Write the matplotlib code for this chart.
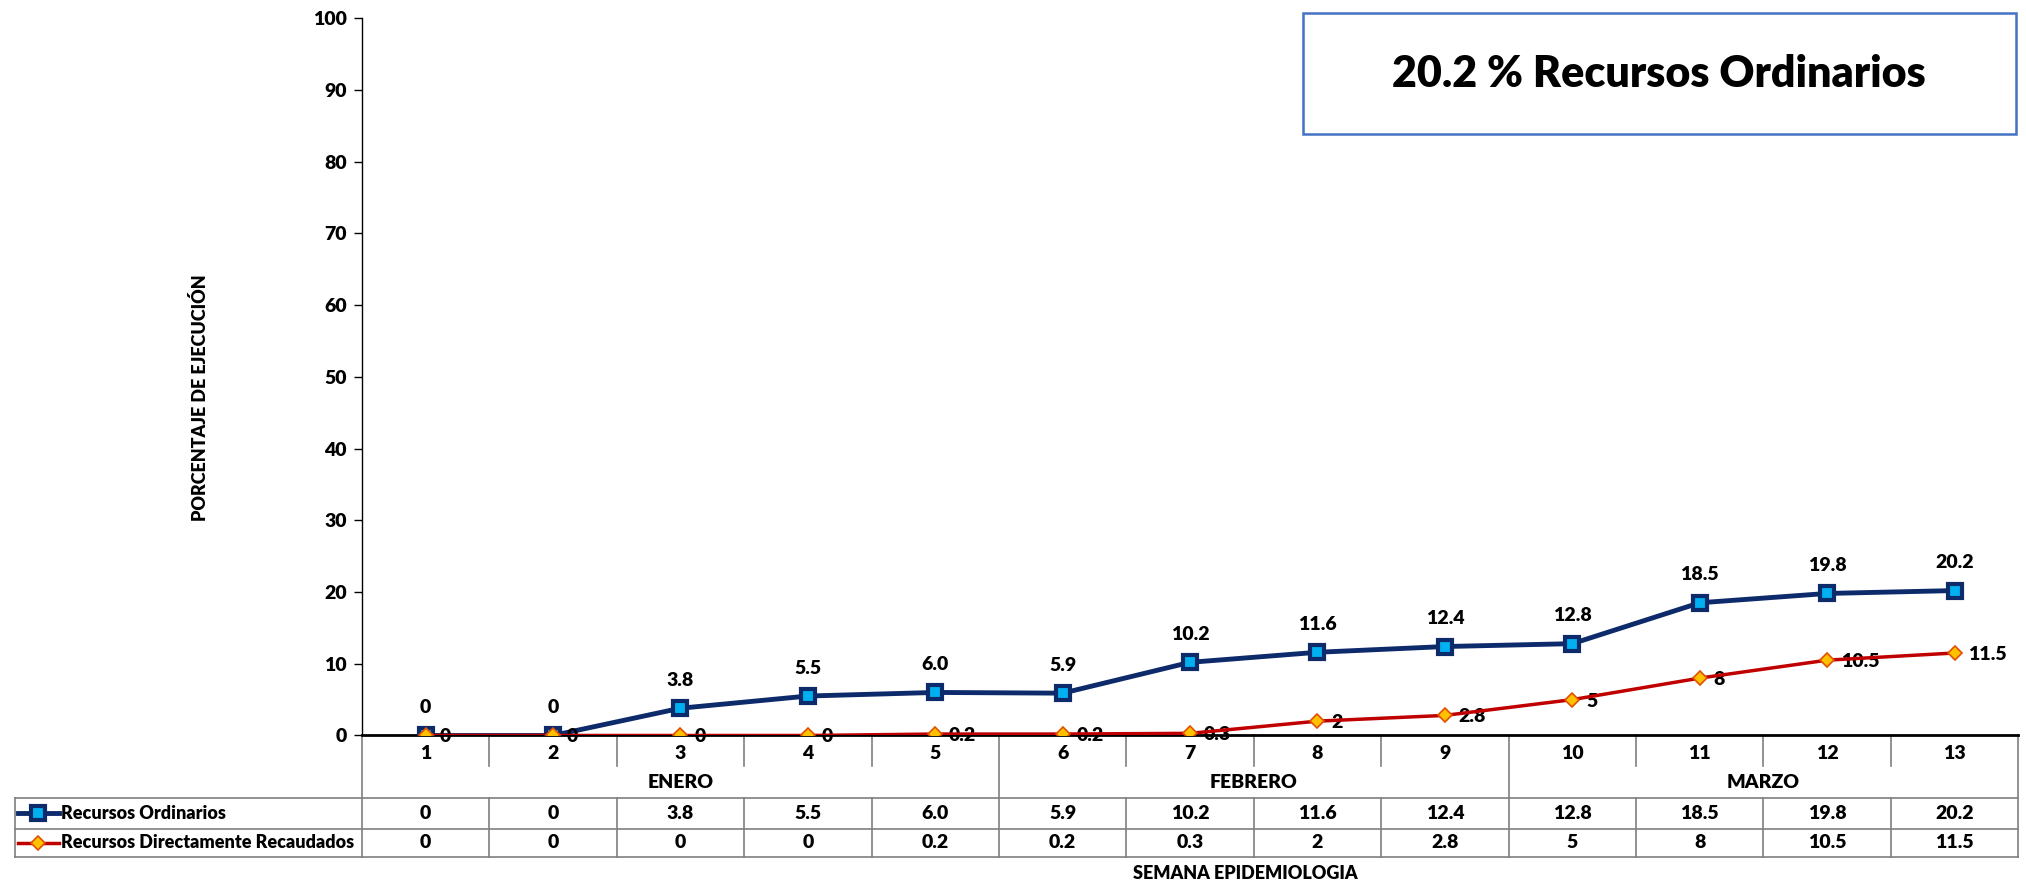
import numpy as np
import matplotlib.pyplot as plt
import matplotlib.transforms as mtransforms
from matplotlib.lines import Line2D
from matplotlib.patches import Rectangle

plt.rcParams['font.family'] = ['Lato', 'DejaVu Sans']
plt.rcParams['font.weight'] = 'heavy'

semanas = [str(i) for i in range(1, 14)]
meses = ['ENERO', 'FEBRERO', 'MARZO']
mes_centro = [3, 7.5, 11.5]
ordinarios = [0, 0, 3.8, 5.5, 6.0, 5.9, 10.2, 11.6, 12.4, 12.8, 18.5, 19.8, 20.2]
ordinarios_lbl = ['0', '0', '3.8', '5.5', '6.0', '5.9', '10.2', '11.6', '12.4', '12.8', '18.5', '19.8', '20.2']
directos = [0, 0, 0, 0, 0.2, 0.2, 0.3, 2, 2.8, 5, 8, 10.5, 11.5]
directos_lbl = ['0', '0', '0', '0', '0.2', '0.2', '0.3', '2', '2.8', '5', '8', '10.5', '11.5']

navy = '#0D2A6B'
cyan = '#00B0F0'
red = '#C00000'
gold = '#FFC000'
grid_c = '#7F7F7F'
fs = 14
wt = 'heavy'

fig = plt.figure(figsize=(20.26, 8.84), dpi=100)
ax = fig.add_axes([0.1786, 0.168, 0.8176, 0.8115])

x = np.arange(1, 14)
ax.plot(x, ordinarios, color=navy, lw=3.5, marker='s', ms=10,
        mfc=cyan, mec=navy, mew=3, zorder=3)
ax.plot(x, directos, color=red, lw=2.5, marker='D', ms=7,
        mfc=gold, mec='#E05000', mew=1.2, zorder=4)

for xi, v, s in zip(x, ordinarios, ordinarios_lbl):
    ax.annotate(s, (xi, v), xytext=(0, 20), textcoords='offset points',
                ha='center', va='center', fontsize=fs, fontweight=wt)
for xi, v, s in zip(x, directos, directos_lbl):
    ax.annotate(s, (xi, v), xytext=(10, -1), textcoords='offset points',
                ha='left', va='center', fontsize=fs, fontweight=wt)

ax.set_xlim(0.5, 13.5)
ax.set_ylim(0, 100)
ax.set_yticks(range(0, 101, 10))
ax.tick_params(axis='y', labelsize=fs, length=6, width=1, direction='out', pad=5)
for lbl in ax.get_yticklabels():
    lbl.set_fontweight(wt)
ax.set_xticks([])
for sp in ['top', 'right']:
    ax.spines[sp].set_visible(False)
ax.spines['bottom'].set_linewidth(2)
ax.spines['left'].set_linewidth(1)

# table below the axis
tr = mtransforms.blended_transform_factory(ax.transData, ax.transAxes)
y_tick, y_mes, y_top, y_mid, y_bot = -0.0252, -0.0649, -0.0865, -0.1297, -0.1694
x_left = -2.22

def seg(x0, x1, y0, y1, lw=1.2):
    ax.add_line(Line2D([x0, x1], [y0, y1], transform=tr, color=grid_c,
                       lw=lw, clip_on=False))

for xi, s in zip(x, semanas):
    ax.text(xi, y_tick, s, transform=tr, ha='center', va='center', fontsize=fs,
            fontweight=wt)
for xc, m in zip(mes_centro, meses):
    ax.text(xc, y_mes, m, transform=tr, ha='center', va='center', fontsize=fs,
            fontweight=wt)

for b in np.arange(1.5, 13.5, 1.0):
    if b in (5.5, 9.5):
        seg(b, b, 0, y_bot)
    else:
        seg(b, b, 0, -0.0432)
        seg(b, b, y_top, y_bot)
seg(0.5, 0.5, 0, y_bot)
seg(13.5, 13.5, 0, y_bot)
seg(x_left, x_left, y_top, y_bot)
for yy in (y_top, y_mid, y_bot):
    seg(x_left, 13.5, yy, yy)

ycen1 = (y_top + y_mid) / 2
ycen2 = (y_mid + y_bot) / 2
for xi, s1, s2 in zip(x, ordinarios_lbl, directos_lbl):
    ax.text(xi, ycen1, s1, transform=tr, ha='center', va='center', fontsize=fs,
            fontweight=wt)
    ax.text(xi, ycen2, s2, transform=tr, ha='center', va='center', fontsize=fs,
            fontweight=wt)

ax.add_line(Line2D([-2.2, -1.88], [ycen1, ycen1], transform=tr, color=navy, lw=3.5,
                   clip_on=False))
ax.add_line(Line2D([-2.04], [ycen1], transform=tr, marker='s', ms=10, mfc=cyan,
                   mec=navy, mew=3, clip_on=False))
ax.add_line(Line2D([-2.2, -1.88], [ycen2, ycen2], transform=tr, color=red, lw=2.5,
                   clip_on=False))
ax.add_line(Line2D([-2.04], [ycen2], transform=tr, marker='D', ms=7, mfc=gold,
                   mec='#E05000', mew=1.2, clip_on=False))
ax.text(-1.86, ycen1, 'Recursos Ordinarios', transform=tr, ha='left', va='center',
        fontsize=13, fontweight=wt)
ax.text(-1.86, ycen2, 'Recursos Directamente Recaudados', transform=tr, ha='left',
        va='center', fontsize=13, fontweight=wt)

ax.text(7.43, -0.193, 'SEMANA EPIDEMIOLOGIA', transform=tr, ha='center', va='center',
        fontsize=13, fontweight=wt)
fig.text(0.0989, 0.55, 'PORCENTAJE DE EJECUCIÓN', rotation=90, ha='center',
         va='center', fontsize=13, fontweight=wt)

# title box
fig.add_artist(Rectangle((0.6429, 0.848), 0.352, 0.137, transform=fig.transFigure,
                         fill=False, edgecolor='#4472C4', lw=1.8))
fig.text(0.8189, 0.9165, '20.2 % Recursos Ordinarios', ha='center', va='center',
         fontsize=31, fontweight=wt)

fig.savefig('out.png', dpi=100)
